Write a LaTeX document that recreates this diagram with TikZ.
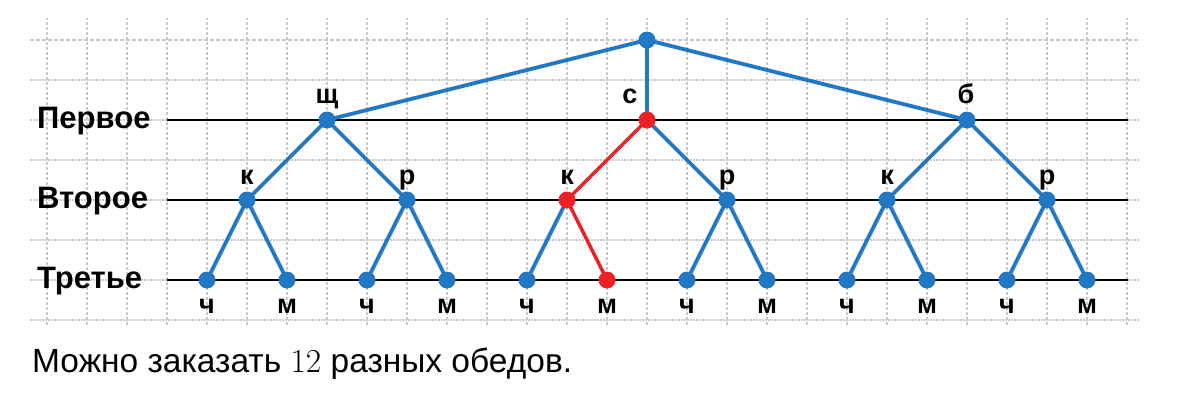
\documentclass[tikz,border=0pt]{standalone}
\usepackage{fontspec}
\newfontfamily\labfont{Liberation Sans}
\newfontfamily\bodyfont{Liberation Sans}
\definecolor{tblue}{RGB}{33,120,196}
\definecolor{tred}{RGB}{237,33,36}
\definecolor{gridc}{RGB}{200,200,200}
\pgfdeclarelayer{bg}
\pgfsetlayers{bg,main}
\begin{document}
\begin{tikzpicture}[x=1pt,y=1pt,
  dot/.style={circle,fill=tblue,inner sep=0pt,minimum size=17pt},
  rdot/.style={dot,fill=tred},
  edge/.style={draw=tblue,line width=3.8pt},
  redge/.style={draw=tred,line width=3.4pt},
  lvl/.style={draw=black,line width=2.5pt},
  lab/.style={font=\labfont\bfseries\fontsize{27}{27}\selectfont,inner sep=0pt,anchor=base},
  rowlab/.style={font=\labfont\bfseries\fontsize{31}{31}\selectfont,inner sep=0pt,anchor=base west},
  hgrid/.style={draw=gridc,line width=1.2pt,dash pattern=on 1.5pt off 1.5pt},
  hgridtop/.style={draw=gridc,line width=1.2pt,dash pattern=on 4pt off 2pt},
  vgrid/.style={draw=gridc,line width=1.2pt,dash pattern=on 3pt off 2pt}
]
\useasboundingbox (0,0) rectangle (1199,408);
% tree nodes
\node[dot] (r) at (647,368) {};
\node[dot] (a) at (327,288) {};
\node[rdot] (b) at (647,288) {};
\node[dot] (c) at (967,288) {};
\node[dot] (a1) at (247,208) {};
\node[dot] (a2) at (407,208) {};
\node[rdot] (b1) at (567,208) {};
\node[dot] (b2) at (727,208) {};
\node[dot] (c1) at (887,208) {};
\node[dot] (c2) at (1047,208) {};
\node[dot] (a11) at (207,128) {};
\node[dot] (a12) at (287,128) {};
\node[dot] (a21) at (367,128) {};
\node[dot] (a22) at (447,128) {};
\node[dot] (b11) at (527,128) {};
\node[rdot] (b12) at (607,128) {};
\node[dot] (b21) at (687,128) {};
\node[dot] (b22) at (767,128) {};
\node[dot] (c11) at (847,128) {};
\node[dot] (c12) at (927,128) {};
\node[dot] (c21) at (1007,128) {};
\node[dot] (c22) at (1087,128) {};
% level line ends
\coordinate (L1s) at (167,288); \coordinate (L1e) at (1128,288);
\coordinate (L2s) at (167,208); \coordinate (L2e) at (1128,208);
\coordinate (L3s) at (167,128); \coordinate (L3e) at (1128,128);
\begin{pgfonlayer}{bg}
  \foreach \y in {88,128,...,328} \draw[hgrid] (30,\y) -- (1140,\y);
  \draw[hgridtop] (30,368) -- (1140,368);
  \foreach \x in {47,87,...,1127} \draw[vgrid] (\x,83) -- (\x,390);
  \draw[lvl] (L1s) -- (L1e);
  \draw[lvl] (L2s) -- (L2e);
  \draw[lvl] (L3s) -- (L3e);
  \draw[edge] (r.center) -- (a.center);
  \draw[edge] (r.center) -- (b.center);
  \draw[edge] (r.center) -- (c.center);
  \draw[edge] (a.center) -- (a1.center);
  \draw[edge] (a.center) -- (a2.center);
  \draw[edge] (b.center) -- (b2.center);
  \draw[edge] (c.center) -- (c1.center);
  \draw[edge] (c.center) -- (c2.center);
  \foreach \p in {a1,a2,b1,b2,c1,c2} {
    \draw[edge] (\p.center) -- (\p1.center);
  }
  \foreach \p in {a1,a2,b2,c1,c2} {
    \draw[edge] (\p.center) -- (\p2.center);
  }
  \draw[redge] (b.center) -- (b1.center);
  \draw[redge] (b1.center) -- (b12.center);
\end{pgfonlayer}
% labels
\node[lab] (ta) at (327,305) {щ};
\node[lab] (tb) at (630,305) {с};
\node[lab] (tc) at (966,305) {б};
\node[lab] (ta1) at (247,224) {к};
\node[lab] (ta2) at (407,224) {р};
\node[lab] (tb1) at (567,224) {к};
\node[lab] (tb2) at (727,224) {р};
\node[lab] (tc1) at (887,224) {к};
\node[lab] (tc2) at (1047,224) {р};
\foreach \x/\t [count=\i] in {207/ч,287/м,367/ч,447/м,527/ч,607/м,687/ч,767/м,847/ч,927/м,1007/ч,1087/м}
  \node[lab] (leaf\i) at (\x,95) {\t};
\node[rowlab] (row1) at (37,280) {Первое};
\node[rowlab] (row2) at (37,200) {Второе};
\node[rowlab] (row3) at (37,120) {Третье};
\node[inner sep=0pt,anchor=base west] (txt) at (32,36) {\bodyfont\fontsize{33.5}{33.5}\selectfont Можно заказать {\rmfamily 12} разных обедов.};
\end{tikzpicture}
\end{document}
